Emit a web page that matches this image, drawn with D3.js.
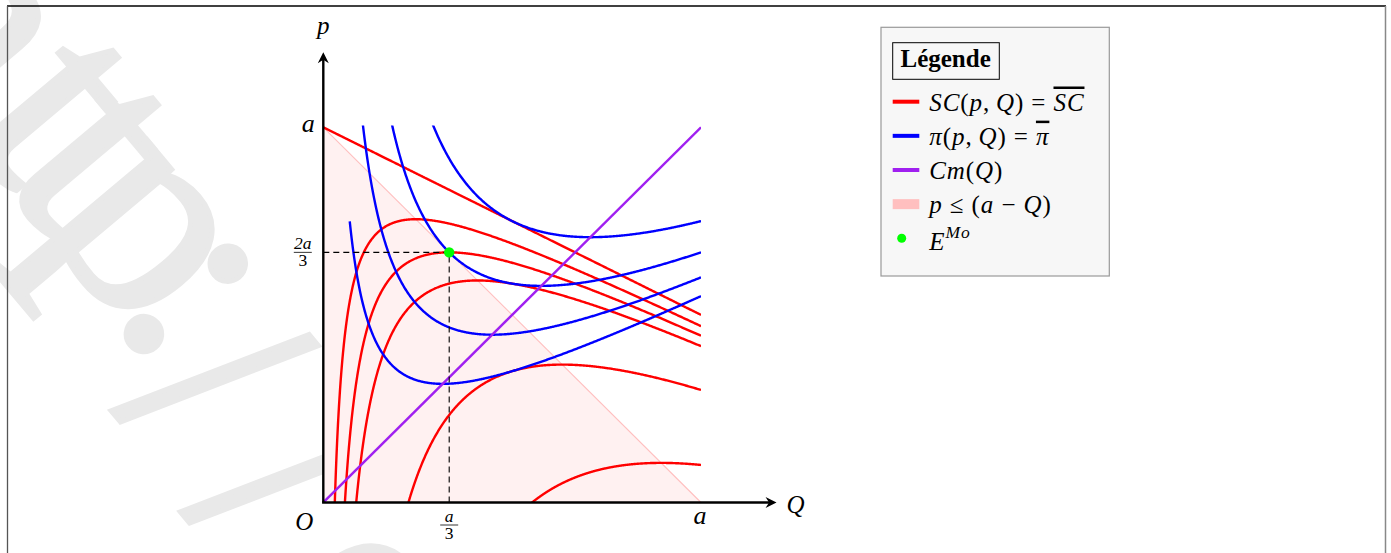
<!DOCTYPE html>
<html>
<head>
<meta charset="utf-8">
<script src="https://cdn.jsdelivr.net/npm/d3@7"></script>
<style>
  body { margin: 0; background: #fff; }
  svg { display: block; }
  text { font-family: "Liberation Serif", "DejaVu Serif", serif; }
</style>
</head>
<body>
<svg id="chart" width="1391" height="553"></svg>
<script>
// levels, with a = 1
const scLevels = [0, 0.03, 1/18, 1/12, 0.2, 0.4];   // SC(p,Q) = SC
const piLevels = [0.05, 0.1, 1/6, 0.25];             // pi(p,Q) = pi
const cmLine = [[0, 0], [1, 1]];                      // Cm(Q) = Q
const demandTriangle = [[0, 0], [0, 1], [1, 0]];      // p <= a - Q
const monopolyPoint = [1/3, 2/3];                     // E^Mo
const xTickLabels = [{v: 1/3, num: "a", den: "3"}, {v: 1, text: "a"}];
const yTickLabels = [{v: 1, text: "a"}, {v: 2/3, num: "2a", den: "3"}];
const legendItems = [
  {kind: "line", color: "#ff0000", label: [["SC", 1], ["(", 0], ["p", 1], [",\u2009", 0], ["Q", 1], [") = ", 0], ["SC", 2]]},
  {kind: "line", color: "#0000ff", label: [["π", 1], ["(", 0], ["p", 1], [",\u2009", 0], ["Q", 1], [") = ", 0], ["π", 2]]},
  {kind: "line", color: "#a020f0", label: [["Cm", 1], ["(", 0], ["Q", 1], [")", 0]]},
  {kind: "area", color: "#ffbfbf", label: [["p", 1], [" ≤ (", 0], ["a", 1], [" − ", 0], ["Q", 1], [")", 0]]},
  {kind: "dot", color: "#00ff00", label: [["E", 1], ["Mo", 3]]}
];
// watermark glyphs and where each one starts (along / across its baseline)
const wmChars = ["h", "t", "t", "p", ":", "/", "/", "e"];
const wmX = [-80, 75, 137, 195, 307, 386, 508, 630];
const wmY = [115, 115, 115, 115, 118, 176, 188, 190];

const svg = d3.select("#chart");
const x = d3.scaleLinear().domain([0, 1]).range([323.3, 701]);
const y = d3.scaleLinear().domain([0, 1]).range([502.5, 127.3]);
const line = d3.line().x(d => x(d[0])).y(d => y(d[1]));

// watermark
svg.append("text")
  .attr("transform", "rotate(50)")
  .attr("x", wmX.join(" ")).attr("y", wmY.join(" "))
  .attr("font-size", 300)
  .attr("fill", "#e9e9e9")
  .attr("stroke", "#e9e9e9").attr("stroke-width", 5)
  .text(wmChars.join(""));

// frame
svg.append("line").attr("x1", 7).attr("y1", 6).attr("x2", 1386).attr("y2", 6).attr("stroke", "#000").attr("stroke-width", 1.3);
svg.append("line").attr("x1", 7.5).attr("y1", 6).attr("x2", 7.5).attr("y2", 553).attr("stroke", "#555").attr("stroke-width", 1.3);
svg.append("line").attr("x1", 1385.5).attr("y1", 6).attr("x2", 1385.5).attr("y2", 553).attr("stroke", "#888").attr("stroke-width", 1.5);

// plot background hides the watermark
svg.append("rect")
  .attr("x", x(0)).attr("y", y(1.005))
  .attr("width", x(1) - x(0)).attr("height", y(0) - y(1.005))
  .attr("fill", "#fff");

svg.append("clipPath").attr("id", "plotClip")
  .append("rect")
  .attr("x", x(0)).attr("y", y(1.005))
  .attr("width", x(1) - x(0)).attr("height", y(0) - y(1.005));

// p <= a - Q
svg.append("path")
  .attr("d", line(demandTriangle) + "Z")
  .attr("fill", "#ffbfbf").attr("fill-opacity", 0.22);
svg.append("path")
  .attr("d", line(demandTriangle.slice(1)))
  .attr("fill", "none").attr("stroke", "#ffbfbf").attr("stroke-width", 1.1);

const g = svg.append("g").attr("clip-path", "url(#plotClip)");

// SC(p,Q) = aQ - Q^2/2 - pQ  ->  p = 1 - Q/2 - SC/Q
function scCurve(sc) {
  let q0 = 1 - Math.sqrt(1 - 2 * sc);
  return d3.range(0, 1.00001, 1 / 600).map(function(t) {
    let q = q0 + (1 - q0) * t * t;
    return [q, 1 - q / 2 - (sc === 0 ? 0 : sc / q)];
  });
}
// pi(p,Q) = pQ - Q^2/2  ->  p = pi/Q + Q/2
function piCurve(pi) {
  return d3.range(0.07, 1.00001, 0.002).map(q => [q, pi / q + q / 2]);
}

g.selectAll(".sc").data(scLevels).enter().append("path")
  .attr("class", "sc")
  .attr("d", d => line(scCurve(d)))
  .attr("fill", "none").attr("stroke", "#ff0000").attr("stroke-width", 2.4);

g.selectAll(".pi").data(piLevels).enter().append("path")
  .attr("class", "pi")
  .attr("d", d => line(piCurve(d)))
  .attr("fill", "none").attr("stroke", "#0000ff").attr("stroke-width", 2.4);

g.append("path")
  .attr("d", line(cmLine))
  .attr("fill", "none").attr("stroke", "#a020f0").attr("stroke-width", 2.4);

// dashed guides to E
svg.append("path")
  .attr("d", line([[0, monopolyPoint[1]], monopolyPoint, [monopolyPoint[0], 0]]))
  .attr("fill", "none").attr("stroke", "#000").attr("stroke-width", 1.1)
  .attr("stroke-dasharray", "6,4");

// axes
function arrowHead(tx, ty, dir) {
  // dir: 0 = right, 1 = up
  let pts = dir === 0
    ? [[tx, ty], [tx - 11, ty - 5.5], [tx - 7.5, ty], [tx - 11, ty + 5.5]]
    : [[tx, ty], [tx - 5.5, ty + 11], [tx, ty + 7.5], [tx + 5.5, ty + 11]];
  return "M" + pts.map(p => p.join(",")).join("L") + "Z";
}
svg.append("line")
  .attr("x1", x(0) - 1.2).attr("y1", y(0)).attr("x2", x(1.2) - 4).attr("y2", y(0))
  .attr("stroke", "#000").attr("stroke-width", 2.4);
svg.append("path").attr("d", arrowHead(x(1.2), y(0), 0)).attr("fill", "#000");
svg.append("line")
  .attr("x1", x(0)).attr("y1", y(0)).attr("x2", x(0)).attr("y2", y(1.2) + 4)
  .attr("stroke", "#000").attr("stroke-width", 2.4);
svg.append("path").attr("d", arrowHead(x(0), y(1.2), 1)).attr("fill", "#000");

svg.append("text").attr("x", x(1.25)).attr("y", y(0) + 10).attr("text-anchor", "middle")
  .attr("font-size", 25).attr("font-style", "italic").text("Q");
svg.append("text").attr("x", x(0)).attr("y", y(1.26) + 4.5).attr("text-anchor", "middle")
  .attr("font-size", 25).attr("font-style", "italic").text("p");
svg.append("text").attr("x", x(0) - 19).attr("y", y(0) + 27.5).attr("text-anchor", "middle")
  .attr("font-size", 25).attr("font-style", "italic").text("O");

function fraction(cx, barY, t) {
  svg.append("text").attr("x", cx).attr("y", barY - 3.5).attr("text-anchor", "middle")
    .attr("font-size", 17.5).attr("font-style", "italic").text(t.num);
  svg.append("line").attr("x1", cx - 9).attr("x2", cx + 9).attr("y1", barY).attr("y2", barY)
    .attr("stroke", "#000").attr("stroke-width", 0.8);
  svg.append("text").attr("x", cx).attr("y", barY + 14).attr("text-anchor", "middle")
    .attr("font-size", 17.5).text(t.den);
}

xTickLabels.forEach(function(t) {
  if (t.num) {
    fraction(x(t.v), y(0) + 22.5, t);
  } else {
    svg.append("text").attr("x", x(t.v) - 1).attr("y", y(0) + 21.5).attr("text-anchor", "middle")
      .attr("font-size", 26).attr("font-style", "italic").text(t.text);
  }
});
yTickLabels.forEach(function(t) {
  if (t.num) {
    fraction(x(0) - 20.5, y(t.v), t);
  } else {
    svg.append("text").attr("x", x(0) - 15).attr("y", y(t.v) + 4.5).attr("text-anchor", "middle")
      .attr("font-size", 26).attr("font-style", "italic").text(t.text);
  }
});

// E^Mo
svg.append("circle")
  .attr("cx", x(monopolyPoint[0])).attr("cy", y(monopolyPoint[1])).attr("r", 5.2)
  .attr("fill", "#00ff00");

// legend
const lg = svg.append("g");
lg.append("rect").attr("x", 881).attr("y", 27.3).attr("width", 228.3).attr("height", 248.7)
  .attr("fill", "#f7f7f7").attr("stroke", "#999").attr("stroke-width", 1.2);
lg.append("rect").attr("x", 892.7).attr("y", 42.7).attr("width", 106.6).attr("height", 36.6)
  .attr("fill", "none").attr("stroke", "#000").attr("stroke-width", 1);
lg.append("text").attr("x", 900.5).attr("y", 67).attr("font-size", 25).attr("font-weight", "bold")
  .text("Légende");

const rowY = d3.scaleLinear().domain([0, 4]).range([101.7, 238.3]);
legendItems.forEach(function(item, i) {
  let cy = rowY(i);
  if (item.kind === "line") {
    lg.append("line").attr("x1", 892.7).attr("x2", 919.3).attr("y1", cy).attr("y2", cy)
      .attr("stroke", item.color).attr("stroke-width", 4);
  } else if (item.kind === "area") {
    lg.append("rect").attr("x", 892.7).attr("y", cy - 5).attr("width", 26.6).attr("height", 10)
      .attr("fill", item.color);
  } else {
    lg.append("circle").attr("cx", 901.7).attr("cy", cy).attr("r", 4.5).attr("fill", item.color);
  }
  let txt = lg.append("text").attr("x", 929.3).attr("y", cy + (item.kind === "dot" ? 11.7 : 8.8))
    .attr("font-size", 25).attr("letter-spacing", 0.9).attr("xml:space", "preserve");
  item.label.forEach(function(s) {
    let ts = txt.append("tspan").text(s[0]);
    if (s[1] >= 1) ts.attr("font-style", "italic");
    if (s[1] === 2) ts.style("text-decoration", "overline");
    if (s[1] === 3) ts.attr("font-size", 17.5).attr("dy", -12);
  });
});
</script>
</body>
</html>
